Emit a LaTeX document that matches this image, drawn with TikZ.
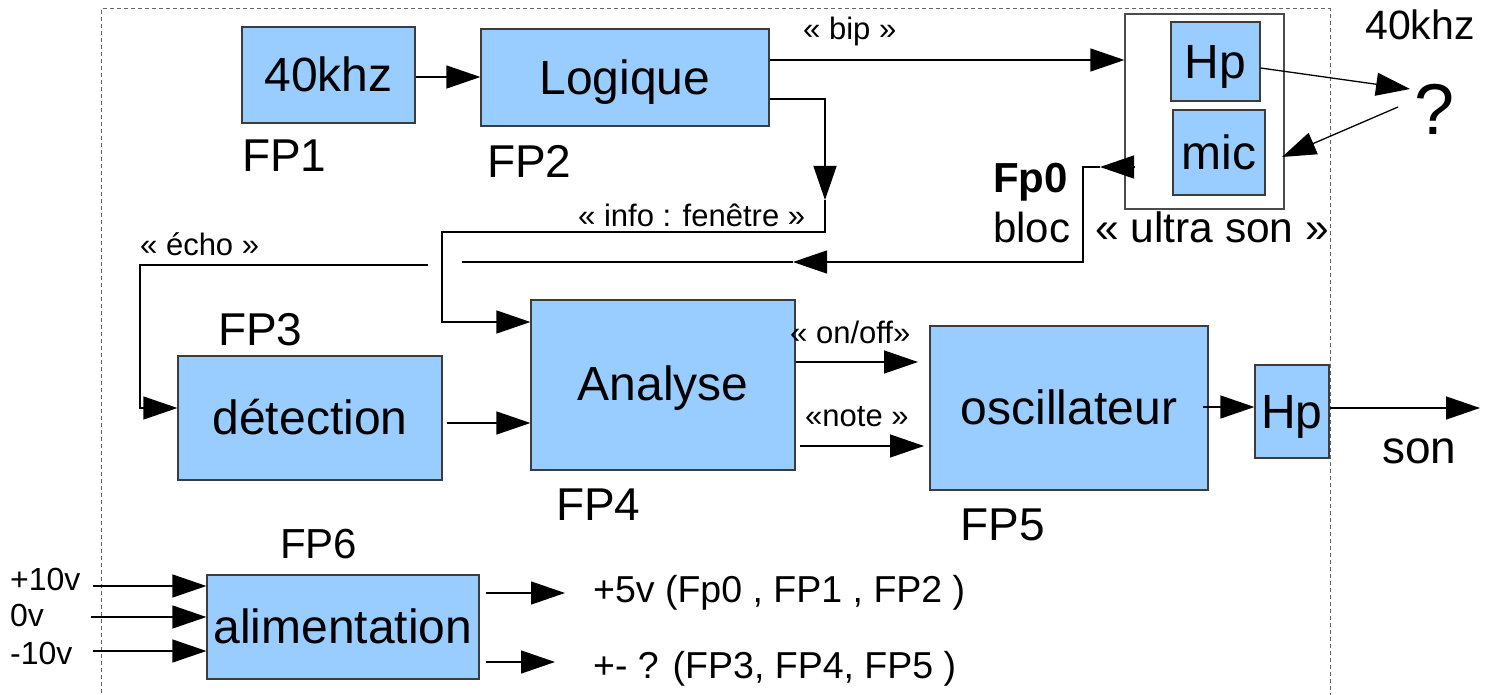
\documentclass[tikz,border=0pt]{standalone}
\usepackage{fontspec}
\setmainfont{Liberation Sans}
\usetikzlibrary{arrows.meta}
\definecolor{boxblue}{HTML}{99CCFF}
\definecolor{edge}{HTML}{3C3C3C}
\begin{document}
\begin{tikzpicture}[x=1pt,y=-1pt,
  blk/.style={draw=edge, line width=1.2pt, fill=boxblue, inner sep=0pt,
    font=\fontsize{48}{56}\selectfont, text height=43.4pt, text depth=10.2pt},
  lbl/.style={inner sep=0pt, anchor=base west, font=\fontsize{46}{54}\selectfont},
  mid/.style={inner sep=0pt, anchor=base west, font=\fontsize{42}{50}\selectfont},
  pwr/.style={inner sep=0pt, anchor=base west, font=\fontsize{37.5}{44}\selectfont},
  vin/.style={inner sep=0pt, anchor=base west, font=\fontsize{32}{38}\selectfont},
  sml/.style={inner sep=0pt, anchor=base west, font=\fontsize{31}{36}\selectfont},
  wire/.style={line width=1.3pt, draw=black},
  arr/.style={wire, -{Triangle[length=34pt,width=23pt]}},
  frame/.style={draw=black!60, line width=1pt, dash pattern=on 4pt off 3pt}]
\useasboundingbox (0,0) rectangle (1491,695);

% dashed frame
\draw[frame] (101,700) -- (101,9) -- (1330,9) -- (1330,700);

% blocks
\node[blk, minimum width=173pt, minimum height=96pt] (f40) at (328.5,75) {40khz};
\node[blk, minimum width=288pt, minimum height=97pt] (logique) at (625,77.5) {Logique};
\node[draw=black!70, line width=1.2pt, fill=white, minimum width=159pt, minimum height=195pt, inner sep=0pt] (us) at (1204.5,111.5) {};
\node[blk, minimum width=89pt, minimum height=79pt] (hp1) at (1215.5,61.5) {Hp};
\node[blk, minimum width=92pt, minimum height=85pt] (mic) at (1219,152.5) {mic};
\node[blk, minimum width=264pt, minimum height=124pt] (detect) at (310,418) {détection};
\node[blk, minimum width=264pt, minimum height=170pt] (analyse) at (663,385) {};
\node[inner sep=0pt, font=\fontsize{48}{56}\selectfont, anchor=base] (analyseT) at (663,400) {Analyse};
\node[blk, minimum width=278pt, minimum height=164pt] (osc) at (1069,408) {oscillateur};
\node[blk, minimum width=74pt, minimum height=93pt] (hp2) at (1292,411.5) {Hp};
\node[blk, minimum width=272pt, minimum height=104pt] (alim) at (343,627) {alimentation};

% labels
\node[lbl] (lfp1) at (242,172) {FP1};
\node[lbl] (lfp2) at (487,178) {FP2};
\node[lbl] (lfp3) at (218,345) {FP3};
\node[lbl] (lfp4) at (556,520) {FP4};
\node[lbl] (lfp5) at (960,540) {FP5};
\node[mid] (lfp6) at (280,558) {FP6};
\node[mid, font=\fontsize{41}{48}\selectfont] (lkhz) at (1365,40) {40khz};
\node[inner sep=0pt, anchor=base west, font=\fontsize{72}{80}\selectfont] (q) at (1414,135) {?};
\node[mid, font=\fontsize{42}{50}\selectfont\bfseries] (lfp0) at (993,193) {Fp0};
\node[mid] (lbloc) at (993,242) {bloc};
\node[mid, font=\fontsize{42.5}{50}\selectfont] (lus) at (1095,242) {« ultra son »};
\node[lbl] (lson) at (1382,463) {son};
\node[sml] (lbip) at (803,40) {« bip »};
\node[sml] (linfo) at (578,226) {« info : fenêtre »};
\node[sml] (lecho) at (140,255) {« écho »};
\node[sml] (lonoff) at (790,343) {« on/off»};
\node[sml] (lnote) at (805,426) {«note »};
\node[vin] (lp10) at (10,590) {+10v};
\node[vin] (l0) at (10,626) {0v};
\node[vin] (lm10) at (10,664) {-10v};
\node[pwr] (l5v) at (593,602) {+5v (Fp0 , FP1 , FP2 )};
\node[pwr] (lpm) at (593,678) {+- ? (FP3, FP4, FP5 )};

% helper coordinates
\coordinate (yA) at (0,77);
\coordinate (yBip) at (0,60);
\coordinate (qIn) at (1410,89);
\coordinate (qOut) at (1398,107);
\coordinate (micIn) at (1282,157);
\coordinate (usOut) at (1134,167);
\coordinate (fpTip) at (1100,167);
\coordinate (fpA) at (1083,167);
\coordinate (fpB) at (1083,262);
\coordinate (fpC) at (793,262);
\coordinate (fpD) at (462,262);
\coordinate (inA) at (825,99);
\coordinate (inB) at (825,200);
\coordinate (inC) at (825,232);
\coordinate (inD) at (442,232);
\coordinate (inE) at (442,322);
\coordinate (ecA) at (428,265);
\coordinate (ecB) at (140,265);
\coordinate (ecC) at (140,408);
\coordinate (yDA) at (0,423);
\coordinate (yOn) at (0,362);
\coordinate (onEnd) at (918,362);
\coordinate (noteStart) at (800,446);
\coordinate (noteEnd) at (924,446);
\coordinate (yHp) at (0,407);
\coordinate (ySon) at (0,408);
\coordinate (sonEnd) at (1480,408);
\coordinate (p10) at (93,586);
\coordinate (p0) at (91,617);
\coordinate (m10) at (93,651);
\coordinate (y5) at (0,593);
\coordinate (o5) at (565,593);
\coordinate (ypm) at (0,662);
\coordinate (opm) at (555,662);

% connectors
\draw[arr] (f40.east |- yA) -- (logique.west |- yA);
\draw[arr] (logique.east |- yBip) -- (us.west |- yBip);
\draw[arr] ([yshift=-6.5pt]hp1.east) -- (qIn);
\draw[arr] (qOut) -- (micIn);
\draw[arr] (usOut) -- (fpTip);
\draw[arr] (fpTip) -- (fpA) -- (fpB) -- (fpC);
\draw[wire] (fpC) -- (fpD);
\draw[arr] (logique.east |- inA) -- (inA) -- (inB);
\draw[arr] (inB) -- (inC) -- (inD) -- (inE) -- (analyse.west |- inE);
\draw[arr] (ecA) -- (ecB) -- (ecC) -- (detect.west |- ecC);
\draw[arr] ([xshift=4pt]detect.east |- yDA) -- (analyse.west |- yDA);
\draw[arr] (analyse.east |- yOn) -- (onEnd);
\draw[arr] (noteStart) -- (noteEnd);
\draw[arr] ([xshift=-6pt]osc.east |- yHp) -- (hp2.west |- yHp);
\draw[arr] (hp2.east |- ySon) -- (sonEnd);
\draw[arr] (p10) -- (alim.west |- p10);
\draw[arr] (p0) -- (alim.west |- p0);
\draw[arr] (m10) -- (alim.west |- m10);
\draw[arr] ([xshift=6pt]alim.east |- y5) -- (o5);
\draw[arr] ([xshift=6pt]alim.east |- ypm) -- (opm);
\end{tikzpicture}
\end{document}
